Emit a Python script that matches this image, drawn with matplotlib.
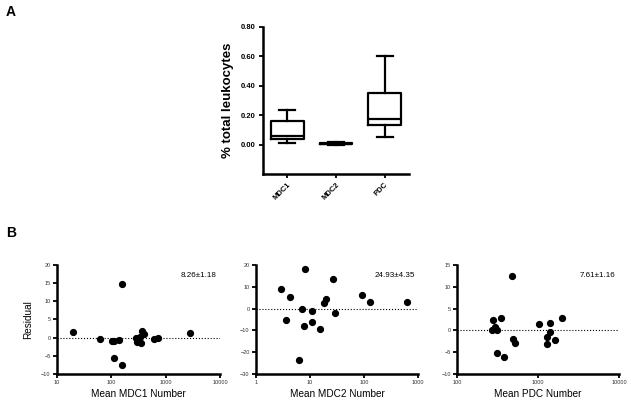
import numpy as np
import matplotlib
matplotlib.use("Agg")
import matplotlib.pyplot as plt
from matplotlib.ticker import FixedLocator, NullLocator, FuncFormatter

plt.rcParams['font.family'] = ['Liberation Sans', 'DejaVu Sans']

# panel A: box plot summaries (% total leukocytes)
cells = ['MDC1', 'MDC2', 'PDC']
whislo = [0.011, 0.000, 0.050]
q1 = [0.036, 0.003, 0.136]
med = [0.061, 0.006, 0.172]
q3 = [0.163, 0.010, 0.350]
whishi = [0.237, 0.018, 0.600]

# panel B: residual vs mean cell number
mdc1_x = [20, 62, 101, 111, 139, 112, 156, 156, 282, 315, 294, 343, 357, 373, 400, 603, 735, 2754]
mdc1_y = [1.5, -0.5, -0.9, -0.8, -0.6, -5.6, 14.9, -7.5, 0.0, 0.0, -1.3, 0.1, -1.6, 1.8, 0.9, -0.5, 0.0, 1.2]
mdc2_x = [2.9, 8.1, 4.3, 3.6, 7.2, 7.8, 11, 11, 6.2, 15.3, 18.2, 19.5, 27, 28.6, 93, 131, 625]
mdc2_y = [9.0, 18.2, 5.2, -5.4, 0.0, -8.0, -1.0, -6.1, -23.7, -9.2, 2.7, 4.3, 13.7, -1.9, 6.1, 3.0, 3.0]
pdc_x = [482, 278, 346, 294, 270, 312, 312, 384, 491, 520, 1028, 1393, 1393, 1279, 1279, 1607, 1995]
pdc_y = [12.5, 2.45, 2.8, 0.8, 0.1, 0.2, -5.3, -6.2, -2.05, -2.9, 1.5, 1.6, -0.4, -1.5, -3.1, -2.2, 2.8]
notes = ['8.26\u00b11.18', '24.93\u00b14.35', '7.61\u00b11.16']

fig = plt.figure(figsize=(6.31, 4.04), dpi=100)

# ---- A ----
ax = fig.add_axes([0.4168, 0.5693, 0.2314, 0.364])
stats = [dict(whislo=whislo[i], q1=q1[i], med=med[i], q3=q3[i], whishi=whishi[i],
              fliers=[], label=cells[i]) for i in range(len(cells))]
ax.bxp(stats, positions=range(len(cells)), widths=0.67, showfliers=False,
       boxprops=dict(linewidth=1.6, color='black'),
       medianprops=dict(linewidth=1.6, color='black'),
       whiskerprops=dict(linewidth=1.6, color='black'),
       capprops=dict(linewidth=1.6, color='black'))
ax.set_xlim(-0.5, 2.5)
ax.set_ylim(-0.2, 0.8)
ax.set_yticks([0, 0.2, 0.4, 0.6, 0.8])
ax.set_yticklabels(['%.2f' % v for v in [0, 0.2, 0.4, 0.6, 0.8]], fontsize=5.5, fontweight='bold')
ax.set_xticks(range(len(cells)))
ax.set_xticklabels(cells, rotation=45, ha='right', rotation_mode='anchor',
                   fontsize=5.5, fontweight='bold')
ax.spines['top'].set_visible(False)
ax.spines['right'].set_visible(False)
for s in ['left', 'bottom']:
    ax.spines[s].set_linewidth(1.8)
ax.tick_params(width=1.3, length=3, pad=2)
ax.set_ylabel('% total leukocytes', fontsize=9.5, fontweight='bold', labelpad=5)

fig.text(0.017, 0.97, 'A', fontsize=10, fontweight='bold', va='center', ha='center')
fig.text(0.017, 0.423, 'B', fontsize=10, fontweight='bold', va='center', ha='center')

# ---- B ----
panels = [
    ([0.0903, 0.0743, 0.2584, 0.2698], mdc1_x, mdc1_y, (10, 10000), (-10, 20), [-10, -5, 0, 5, 10, 15, 20], 'Mean MDC1 Number'),
    ([0.4057, 0.0743, 0.2567, 0.2698], mdc2_x, mdc2_y, (1, 1000), (-30, 20), [-30, -20, -10, 0, 10, 20], 'Mean MDC2 Number'),
    ([0.7243, 0.0743, 0.2567, 0.2698], pdc_x, pdc_y, (100, 10000), (-10, 15), [-10, -5, 0, 5, 10, 15], 'Mean PDC Number'),
]
for i, (pos, xs, ys, xl, yl, yt, lab) in enumerate(panels):
    a = fig.add_axes(pos)
    a.set_xscale('log')
    a.axhline(0, color='black', linestyle=':', linewidth=0.8)
    a.plot(xs, ys, 'o', color='black', markersize=4.2, clip_on=False)
    a.set_xlim(*xl)
    a.set_ylim(*yl)
    decades = [10 ** k for k in range(int(np.log10(xl[0])), int(np.log10(xl[1])) + 1)]
    a.xaxis.set_major_locator(FixedLocator(decades))
    a.xaxis.set_minor_locator(NullLocator())
    a.xaxis.set_major_formatter(FuncFormatter(lambda v, p: '%d' % v))
    a.set_yticks(yt)
    a.tick_params(labelsize=4, width=1.3, length=3, pad=1.5, labelcolor='#333333')
    a.spines['top'].set_visible(False)
    a.spines['right'].set_visible(False)
    for s in ['left', 'bottom']:
        a.spines[s].set_linewidth(1.8)
    a.set_xlabel(lab, fontsize=7.2, labelpad=3)
    if i == 0:
        a.set_ylabel('Residual', fontsize=7.2, labelpad=6)
    a.text(0.98, 0.9, notes[i], transform=a.transAxes, ha='right', va='center', fontsize=5.8)

fig.savefig('out.png', dpi=100)
